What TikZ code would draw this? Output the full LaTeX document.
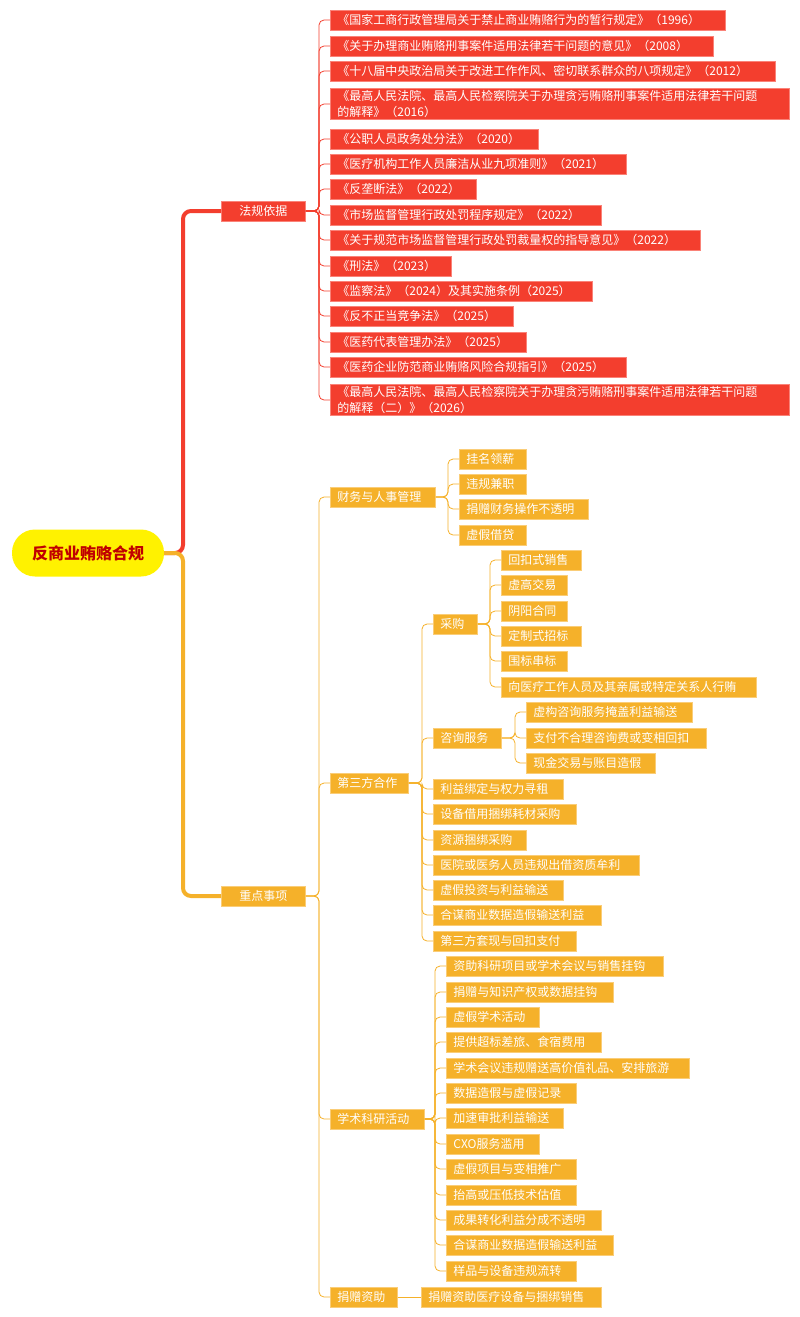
\documentclass[tikz,border=0pt]{standalone}
\usepackage{fontspec}
\setmainfont{Noto Sans CJK SC}
\definecolor{rd}{RGB}{243,62,46}
\definecolor{rdl}{RGB}{250,130,120}
\definecolor{og}{RGB}{245,177,42}
\definecolor{ogl}{RGB}{250,205,120}
\definecolor{dr}{RGB}{192,0,0}
\begin{document}
\begin{tikzpicture}[x=1pt,y=-1pt,
  box/.style={draw, line width=0.8pt, text=white, inner xsep=7pt, inner ysep=2pt, minimum height=20pt, align=left, font=\fontsize{12}{16}\selectfont},
  R/.style={box, fill=rd, draw=rdl},
  O/.style={box, fill=og, draw=ogl},
  rl/.style={draw=rd, line width=0.8pt, rounded corners=5pt},
  ol/.style={draw=og, line width=0.8pt, rounded corners=5pt}]
\useasboundingbox (0,0) rectangle (800,1317);
\newcommand\lf[6]{\pgfmathsetmacro\tw{#4-#2-14}\node[#6,anchor=west,text width=\tw pt] (#1) at (#2,#3) {#5};}
\newcommand\cn[3]{\path (#2.west) ++(-11,0) coordinate (tt); \draw[#3] (#1.east) -- (tt |- #1.east) -- (tt) -- (#2.west);}
% root
\node[fill=yellow, rounded corners=23pt, minimum width=152pt, minimum height=47pt, text=dr, font=\fontsize{16}{18}\selectfont\bfseries] (root) at (88,553) {反商业贿赂合规};
\node[R, anchor=west, text width=70pt, align=center] (fg) at (221,211) {法规依据};
\node[O, anchor=west, text width=70pt, align=center] (zd) at (221,896) {重点事项};
\draw[rd, line width=4pt, rounded corners=8pt] (root.east) -- (183,553) -- (183,211) -- (fg.west);
\draw[og, line width=4pt, rounded corners=8pt] (root.east) -- (183,553) -- (183,896) -- (zd.west);
% legal
\lf{r1}{330}{20}{725}{《国家工商行政管理局关于禁止商业贿赂行为的暂行规定》（1996）}{R}
\lf{r2}{330}{46}{713}{《关于办理商业贿赂刑事案件适用法律若干问题的意见》（2008）}{R}
\lf{r3}{330}{71}{775}{《十八届中央政治局关于改进工作作风、密切联系群众的八项规定》（2012）}{R}
\lf{r4}{330}{104}{789}{《最高人民法院、最高人民检察院关于办理贪污贿赂刑事案件适用法律若干问题\\的解释》（2016）}{R}
\lf{r5}{330}{139}{538}{《公职人员政务处分法》（2020）}{R}
\lf{r6}{330}{164}{626}{《医疗机构工作人员廉洁从业九项准则》（2021）}{R}
\lf{r7}{330}{189}{476}{《反垄断法》（2022）}{R}
\lf{r8}{330}{215}{601}{《市场监督管理行政处罚程序规定》（2022）}{R}
\lf{r9}{330}{240}{700}{《关于规范市场监督管理行政处罚裁量权的指导意见》（2022）}{R}
\lf{r10}{330}{266}{451}{《刑法》（2023）}{R}
\lf{r11}{330}{291}{592}{《监察法》（2024）及其实施条例（2025）}{R}
\lf{r12}{330}{316}{513}{《反不正当竞争法》（2025）}{R}
\lf{r13}{330}{342}{526}{《医药代表管理办法》（2025）}{R}
\lf{r14}{330}{367}{626}{《医药企业防范商业贿赂风险合规指引》（2025）}{R}
\lf{r15}{330}{400}{789}{《最高人民法院、最高人民检察院关于办理贪污贿赂刑事案件适用法律若干问题\\的解释（二）》（2026）}{R}
\foreach \i in {1,...,15} {\cn{fg}{r\i}{rl}}
% level 2
\lf{a}{330}{497}{435}{财务与人事管理}{O}
\lf{b}{330}{783}{408}{第三方合作}{O}
\lf{c}{330}{1119}{424}{学术科研活动}{O}
\lf{d}{330}{1297}{397}{捐赠资助}{O}
\foreach \i in {a,b,c,d} {\cn{zd}{\i}{ol}}
% a
\lf{a1}{459}{459}{526}{挂名领薪}{O}
\lf{a2}{459}{484}{526}{违规兼职}{O}
\lf{a3}{459}{509}{588}{捐赠财务操作不透明}{O}
\lf{a4}{459}{535}{526}{虚假借贷}{O}
\foreach \i in {1,...,4} {\cn{a}{a\i}{ol}}
% b
\lf{b1}{433}{624}{477}{采购}{O}
\lf{b2}{433}{738}{501}{咨询服务}{O}
\lf{b3}{433}{789}{563}{利益绑定与权力寻租}{O}
\lf{b4}{433}{814}{576}{设备借用捆绑耗材采购}{O}
\lf{b5}{433}{840}{526}{资源捆绑采购}{O}
\lf{b6}{433}{865}{639}{医院或医务人员违规出借资质牟利}{O}
\lf{b7}{433}{890}{563}{虚假投资与利益输送}{O}
\lf{b8}{433}{915}{601}{合谋商业数据造假输送利益}{O}
\lf{b9}{433}{941}{576}{第三方套现与回扣支付}{O}
\foreach \i in {1,...,9} {\cn{b}{b\i}{ol}}
\lf{p1}{501}{560}{581}{回扣式销售}{O}
\lf{p2}{501}{585}{567}{虚高交易}{O}
\lf{p3}{501}{611}{567}{阴阳合同}{O}
\lf{p4}{501}{636}{581}{定制式招标}{O}
\lf{p5}{501}{661}{567}{围标串标}{O}
\lf{p6}{501}{687}{756}{向医疗工作人员及其亲属或特定关系人行贿}{O}
\foreach \i in {1,...,6} {\cn{b1}{p\i}{ol}}
\lf{q1}{526}{712}{692}{虚构咨询服务掩盖利益输送}{O}
\lf{q2}{526}{738}{706}{支付不合理咨询费或变相回扣}{O}
\lf{q3}{526}{763}{655}{现金交易与账目造假}{O}
\foreach \i in {1,...,3} {\cn{b2}{q\i}{ol}}
% c
\lf{c1}{446}{966}{663}{资助科研项目或学术会议与销售挂钩}{O}
\lf{c2}{446}{992}{613}{捐赠与知识产权或数据挂钩}{O}
\lf{c3}{446}{1017}{539}{虚假学术活动}{O}
\lf{c4}{446}{1042}{601}{提供超标差旅、食宿费用}{O}
\lf{c5}{446}{1068}{689}{学术会议违规赠送高价值礼品、安排旅游}{O}
\lf{c6}{446}{1093}{576}{数据造假与虚假记录}{O}
\lf{c7}{446}{1118}{563}{加速审批利益输送}{O}
\lf{c8}{446}{1144}{539}{CXO服务滥用}{O}
\lf{c9}{446}{1169}{576}{虚假项目与变相推广}{O}
\lf{c10}{446}{1195}{576}{抬高或压低技术估值}{O}
\lf{c11}{446}{1220}{601}{成果转化利益分成不透明}{O}
\lf{c12}{446}{1245}{613}{合谋商业数据造假输送利益}{O}
\lf{c13}{446}{1271}{576}{样品与设备违规流转}{O}
\foreach \i in {1,...,13} {\cn{c}{c\i}{ol}}
% d
\lf{d1}{421}{1297}{601}{捐赠资助医疗设备与捆绑销售}{O}
\draw[ol] (d.east) -- (d1.west);
\end{tikzpicture}
\end{document}
